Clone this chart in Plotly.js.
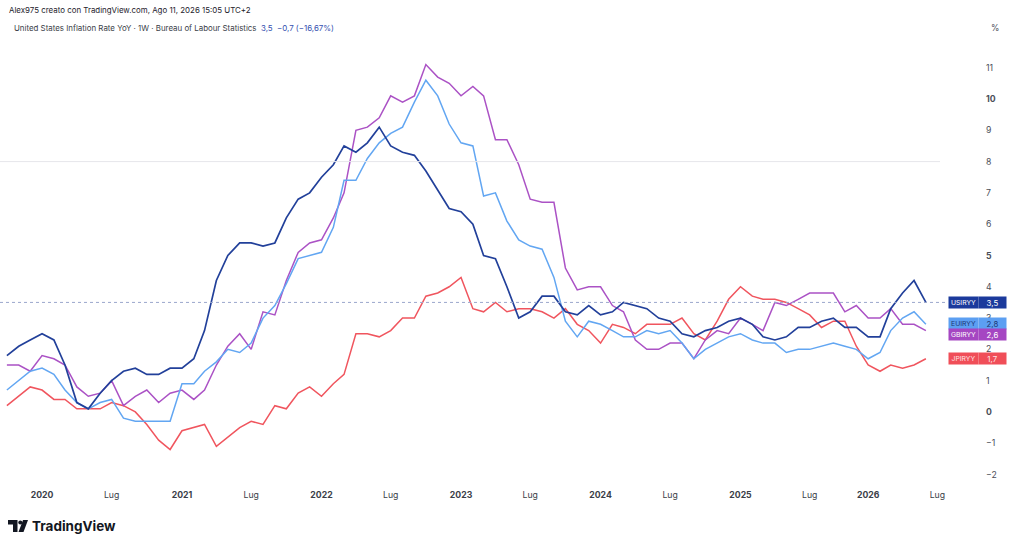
<!DOCTYPE html>
<html>
<head>
<meta charset="utf-8">
<script src="https://cdn.plot.ly/plotly-3.0.1.min.js"></script>
<style>
html,body{margin:0;padding:0;background:#fff;}
#chart{width:1024px;height:546px;}
</style>
</head>
<body>
<div id="chart"></div>
<script>
// ---------- DATA (monthly, YoY %) ----------
const months = [
 "2019-10","2019-11","2019-12",
 "2020-01","2020-02","2020-03","2020-04","2020-05","2020-06","2020-07","2020-08","2020-09","2020-10","2020-11","2020-12",
 "2021-01","2021-02","2021-03","2021-04","2021-05","2021-06","2021-07","2021-08","2021-09","2021-10","2021-11","2021-12",
 "2022-01","2022-02","2022-03","2022-04","2022-05","2022-06","2022-07","2022-08","2022-09","2022-10","2022-11","2022-12",
 "2023-01","2023-02","2023-03","2023-04","2023-05","2023-06","2023-07","2023-08","2023-09","2023-10","2023-11","2023-12",
 "2024-01","2024-02","2024-03","2024-04","2024-05","2024-06","2024-07","2024-08","2024-09","2024-10","2024-11","2024-12",
 "2025-01","2025-02","2025-03","2025-04","2025-05","2025-06","2025-07","2025-08","2025-09","2025-11","2025-12",
 "2026-01","2026-02","2026-03","2026-04","2026-05","2026-06"
];
const usValues = [
 1.8,2.1,2.3,
 2.5,2.3,1.5,0.3,0.1,0.6,1.0,1.3,1.4,1.2,1.2,1.4,
 1.4,1.7,2.6,4.2,5.0,5.4,5.4,5.3,5.4,6.2,6.8,7.0,
 7.5,7.9,8.5,8.3,8.6,9.1,8.5,8.3,8.2,7.7,7.1,6.5,
 6.4,6.0,5.0,4.9,4.0,3.0,3.2,3.7,3.7,3.2,3.1,3.4,
 3.1,3.2,3.5,3.4,3.3,3.0,2.9,2.5,2.4,2.6,2.7,2.9,
 3.0,2.8,2.4,2.3,2.4,2.7,2.7,2.9,3.0,2.7,2.7,
 2.4,2.4,3.3,3.8,4.2,3.5
];
const euValues = [
 0.7,1.0,1.3,
 1.4,1.2,0.7,0.3,0.1,0.3,0.4,-0.2,-0.3,-0.3,-0.3,-0.3,
 0.9,0.9,1.3,1.6,2.0,1.9,2.2,3.0,3.4,4.1,4.9,5.0,
 5.1,5.9,7.4,7.4,8.1,8.6,8.9,9.1,9.9,10.6,10.1,9.2,
 8.6,8.5,6.9,7.0,6.1,5.5,5.3,5.2,4.3,2.9,2.4,2.9,
 2.8,2.6,2.4,2.4,2.6,2.5,2.6,2.2,1.7,2.0,2.2,2.4,
 2.5,2.3,2.2,2.2,1.9,2.0,2.0,2.1,2.2,2.1,2.0,
 1.7,1.9,2.6,3.0,3.2,2.8
];
const gbValues = [
 1.5,1.5,1.3,
 1.8,1.7,1.5,0.8,0.5,0.6,1.0,0.2,0.5,0.7,0.3,0.6,
 0.7,0.4,0.7,1.5,2.1,2.5,2.0,3.2,3.1,4.2,5.1,5.4,
 5.5,6.2,7.0,9.0,9.1,9.4,10.1,9.9,10.1,11.1,10.7,10.5,
 10.1,10.4,10.1,8.7,8.7,7.9,6.8,6.7,6.7,4.6,3.9,4.0,
 4.0,3.4,3.2,2.3,2.0,2.0,2.2,2.2,1.7,2.3,2.6,2.5,
 3.0,2.8,2.6,3.5,3.4,3.6,3.8,3.8,3.8,3.2,3.4,
 3.0,3.0,3.3,2.8,2.8,2.6
];
const jpValues = [
 0.2,0.5,0.8,
 0.7,0.4,0.4,0.1,0.1,0.1,0.3,0.2,0.0,-0.4,-0.9,-1.2,
 -0.6,-0.5,-0.4,-1.1,-0.8,-0.5,-0.3,-0.4,0.2,0.1,0.6,0.8,
 0.5,0.9,1.2,2.5,2.5,2.4,2.6,3.0,3.0,3.7,3.8,4.0,
 4.3,3.3,3.2,3.5,3.2,3.3,3.3,3.2,3.0,3.3,2.8,2.6,
 2.2,2.8,2.7,2.5,2.8,2.8,2.8,3.0,2.5,2.3,2.9,3.6,
 4.0,3.7,3.6,3.6,3.5,3.3,3.1,2.7,2.9,2.9,2.1,
 1.5,1.3,1.5,1.4,1.5,1.7
];
const seriesNames = ["USIRYY","EUIRYY","GBIRYY","JPIRYY"];
const xTickDates = ["2020-01-01","2020-07-01","2021-01-01","2021-07-01","2022-01-01","2022-07-01",
 "2023-01-01","2023-07-01","2024-01-01","2024-07-01","2025-01-01","2025-07-01","2026-01-01","2026-07-01"];
const xTickLabels = ["2020","Lug","2021","Lug","2022","Lug","2023","Lug","2024","Lug","2025","Lug","2026","Lug"];
const yTicks = [-2,-1,0,1,2,3,4,5,6,7,8,9,10,11];
const yBoldTicks = [0,5,10];
const missingMonth = ["2025-10-01","2025-11-01"];

// ---------- STYLE ----------
const FONT = "Inter, 'Open Sans', 'DejaVu Sans', sans-serif";
const colors = {
  us: {line:"#22409a", bg:"#1b3a9c", txt:"#ffffff"},
  eu: {line:"#62a6f2", bg:"#5c9ff2", txt:"#1d3572"},
  gb: {line:"#ab52c5", bg:"#a547c2", txt:"#ffffff"},
  jp: {line:"#f0555e", bg:"#f04e58", txt:"#ffe3e6"}
};
const PLOT_L = 0, PLOT_R = 945, PLOT_T = 40, PLOT_B = 488;
const px = v => (v - PLOT_L) / (PLOT_R - PLOT_L);
const py = v => (PLOT_B - v) / (PLOT_B - PLOT_T);
const fmt = v => v.toFixed(1).replace(".", ",").replace("-", "\u2212");

const xDates = months.map(m => m + "-01");

function line(y, c, w, name){
  return {x:xDates, y:y, type:"scatter", mode:"lines", name:name,
          line:{color:c, width:w, shape:"linear"}, hoverinfo:"skip"};
}
const traces = [
  line(jpValues, colors.jp.line, 1.5, seriesNames[3]),
  line(gbValues, colors.gb.line, 1.5, seriesNames[2]),
  line(euValues, colors.eu.line, 1.5, seriesNames[1]),
  line(usValues, colors.us.line, 1.7, seriesNames[0])
];

const last = a => a[a.length-1];
const usLast = last(usValues), usPrev = usValues[usValues.length-2];
const chg = usLast - usPrev;
const pct = chg / usPrev * 100;
const chgTxt = fmt(chg) + " (" + pct.toFixed(2).replace(".", ",").replace("-", "\u2212") + "%)";

const annotations = [
  {xref:"paper", yref:"paper", x:px(7), y:py(10), xanchor:"left", yanchor:"middle", showarrow:false,
   text:"Alex975 creato con TradingView.com, Ago 11, 2026 15:05 UTC+2",
   font:{family:FONT, size:7.9, color:"#1e222d"}},
  {xref:"paper", yref:"paper", x:px(12), y:py(28), xanchor:"left", yanchor:"middle", showarrow:false,
   text:"United States Inflation Rate YoY \u00b7 1W \u00b7 Bureau of Labour Statistics  " +
        "<span style='color:#3450b0'>" + fmt(usLast) + "  " + chgTxt + "</span>",
   font:{family:FONT, size:7.9, color:"#3a3e48"}},
  {xref:"paper", yref:"paper", x:px(995), y:py(28), xanchor:"center", yanchor:"middle", showarrow:false,
   text:"%", font:{family:FONT, size:8.5, color:"#4a4e58"}},
  {xref:"paper", yref:"paper", x:px(30), y:py(526), xanchor:"left", yanchor:"middle", showarrow:false,
   text:"<b>TradingView</b>", font:{family:FONT, size:13.5, color:"#131722"}}
];

function priceLabel(name, val, c, yshift){
  annotations.push({xref:"paper", yref:"y", x:px(948), y:val, xanchor:"left", yanchor:"middle",
    showarrow:false, text:name, bgcolor:c.bg, width:29, height:11, borderpad:0, yshift:yshift,
    font:{family:FONT, size:6.8, color:c.txt}});
  annotations.push({xref:"paper", yref:"y", x:px(978), y:val, xanchor:"left", yanchor:"middle",
    showarrow:false, text:fmt(val), bgcolor:c.bg, width:27, height:11, borderpad:0, yshift:yshift,
    font:{family:FONT, size:7.8, color:c.txt}});
}
priceLabel(seriesNames[0], usLast, colors.us, 0);
priceLabel(seriesNames[1], last(euValues), colors.eu, 1);
priceLabel(seriesNames[2], last(gbValues), colors.gb, -4);
priceLabel(seriesNames[3], last(jpValues), colors.jp, 0);

const shapes = [
  {type:"line", xref:"paper", yref:"y", x0:0, x1:px(940), y0:8, y1:8,
   line:{color:"#e6e7eb", width:1}},
  {type:"line", xref:"paper", yref:"y", x0:0, x1:px(947), y0:usLast, y1:usLast,
   line:{color:"#9aa6cc", width:1, dash:"dot"}},
  {type:"path", xref:"paper", yref:"paper",
   path:`M ${px(8)} ${py(520)} L ${px(17.5)} ${py(520)} L ${px(17.5)} ${py(532)} L ${px(13)} ${py(532)} L ${px(13)} ${py(524.5)} L ${px(8)} ${py(524.5)} Z`,
   fillcolor:"#131722", line:{width:0}},
  {type:"circle", xref:"paper", yref:"paper", x0:px(18.3), x1:px(22.3), y0:py(524.5), y1:py(520.5),
   fillcolor:"#131722", line:{width:0}},
  {type:"path", xref:"paper", yref:"paper",
   path:`M ${px(23)} ${py(520)} L ${px(28)} ${py(520)} L ${px(23.5)} ${py(532)} L ${px(18.5)} ${py(532)} Z`,
   fillcolor:"#131722", line:{width:0}}
];

const layout = {
  width:1024, height:546,
  margin:{l:PLOT_L, r:1024-PLOT_R, t:PLOT_T, b:546-PLOT_B, pad:0},
  paper_bgcolor:"#ffffff", plot_bgcolor:"#ffffff",
  showlegend:false,
  font:{family:FONT},
  xaxis:{
    type:"date",
    range:["2019-09-13","2026-07-21"],
    rangebreaks:[{bounds:missingMonth}],
    tickmode:"array", tickvals:xTickDates,
    ticktext:xTickLabels.map(t => t === "Lug" ? t : "<b>" + t + "</b>"),
    tickfont:{family:FONT, size:8.7, color:"#3a3e48"},
    showgrid:false, zeroline:false, showline:false, ticks:"", fixedrange:true
  },
  yaxis:{
    side:"right",
    range:[-2.43, 11.885],
    tickmode:"array", tickvals:yTicks,
    ticktext:yTicks.map(v => {
      const s = String(v).replace("-", "\u2212");
      return yBoldTicks.includes(v) ? "<b>" + s + "</b>" : s;
    }),
    tickfont:{family:FONT, size:8.7, color:"#4a4e58"},
    ticklabelstandoff:40,
    showgrid:false, zeroline:false, showline:false, ticks:"", fixedrange:true
  },
  annotations:annotations,
  shapes:shapes
};

Plotly.newPlot("chart", traces, layout, {displayModeBar:false, staticPlot:true});
</script>
</body>
</html>
